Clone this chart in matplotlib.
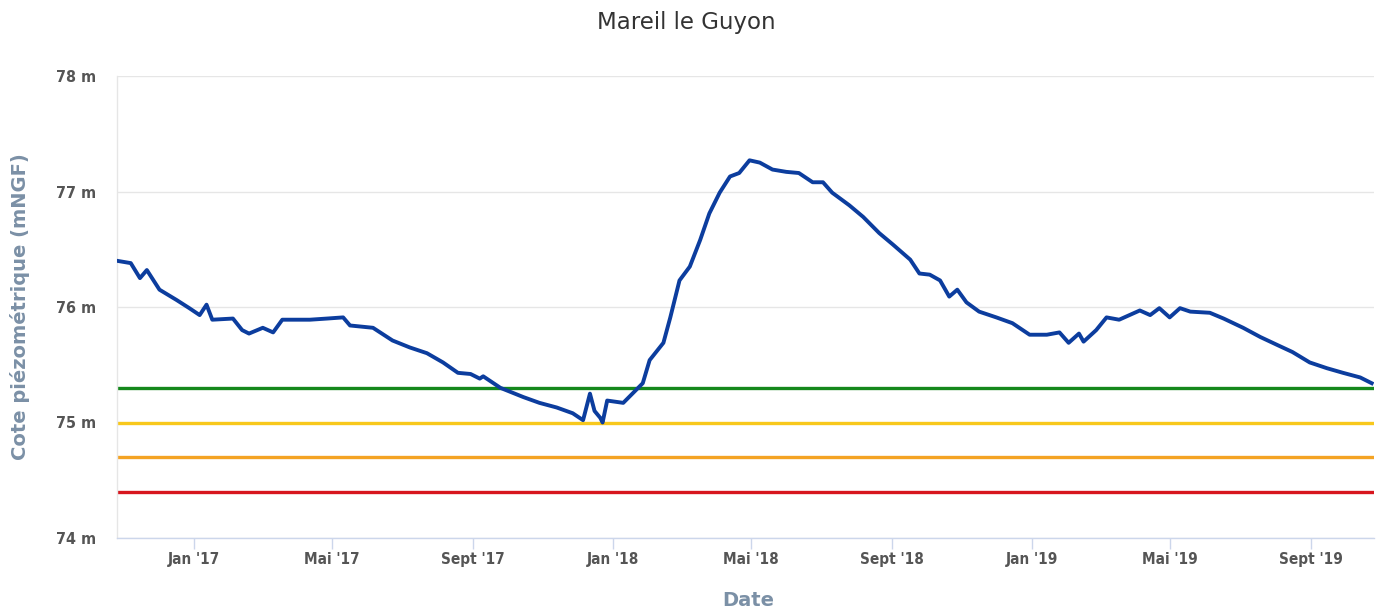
import numpy as np
import matplotlib
matplotlib.use("Agg")
import matplotlib.pyplot as plt
from matplotlib import font_manager

# ---------------- data ----------------
dates = [
    "2016-10-26", "2016-11-07", "2016-11-15", "2016-11-21", "2016-12-02", "2016-12-17",
    "2016-12-28", "2017-01-06", "2017-01-12", "2017-01-17", "2017-02-04", "2017-02-12",
    "2017-02-18", "2017-03-02", "2017-03-11", "2017-03-19", "2017-04-12", "2017-04-27",
    "2017-05-11", "2017-05-17", "2017-06-06", "2017-06-23", "2017-07-08", "2017-07-23",
    "2017-08-06", "2017-08-19", "2017-08-30", "2017-09-07", "2017-09-10", "2017-09-25",
    "2017-10-15", "2017-10-29", "2017-11-13", "2017-11-27", "2017-12-06", "2017-12-12",
    "2017-12-16", "2017-12-21", "2017-12-23", "2017-12-27", "2018-01-10", "2018-01-18",
    "2018-01-27", "2018-02-02", "2018-02-14", "2018-02-20", "2018-02-28", "2018-03-09",
    "2018-03-18", "2018-03-26", "2018-04-04", "2018-04-13", "2018-04-21", "2018-04-30",
    "2018-05-09", "2018-05-20", "2018-06-01", "2018-06-12", "2018-06-24", "2018-07-03",
    "2018-07-11", "2018-07-26", "2018-08-07", "2018-08-21", "2018-09-02", "2018-09-17",
    "2018-09-25", "2018-10-04", "2018-10-13", "2018-10-21", "2018-10-28", "2018-11-05",
    "2018-11-16", "2018-12-01", "2018-12-15", "2018-12-30", "2019-01-14", "2019-01-25",
    "2019-02-02", "2019-02-11", "2019-02-15", "2019-02-26", "2019-03-07", "2019-03-18",
    "2019-04-05", "2019-04-14", "2019-04-22", "2019-05-01", "2019-05-10", "2019-05-19",
    "2019-06-05", "2019-06-17", "2019-07-04", "2019-07-19", "2019-08-03", "2019-08-16",
    "2019-08-31", "2019-09-15", "2019-09-29", "2019-10-14", "2019-10-24",
]
levels = [
    76.40, 76.38, 76.25, 76.32, 76.15, 76.06,
    75.99, 75.93, 76.02, 75.89, 75.90, 75.80,
    75.77, 75.82, 75.78, 75.89, 75.89, 75.90,
    75.91, 75.84, 75.82, 75.71, 75.65, 75.60,
    75.52, 75.43, 75.42, 75.38, 75.40, 75.30,
    75.22, 75.17, 75.13, 75.08, 75.02, 75.25,
    75.10, 75.04, 75.00, 75.19, 75.17, 75.25,
    75.34, 75.54, 75.69, 75.91, 76.23, 76.35,
    76.58, 76.81, 76.99, 77.13, 77.16, 77.27,
    77.25, 77.19, 77.17, 77.16, 77.08, 77.08,
    76.99, 76.88, 76.78, 76.64, 76.54, 76.41,
    76.29, 76.28, 76.23, 76.09, 76.15, 76.04,
    75.96, 75.91, 75.86, 75.76, 75.76, 75.78,
    75.69, 75.77, 75.70, 75.80, 75.91, 75.89,
    75.97, 75.93, 75.99, 75.91, 75.99, 75.96,
    75.95, 75.90, 75.82, 75.74, 75.67, 75.61,
    75.52, 75.47, 75.43, 75.39, 75.34,
]
threshold_values = [75.30, 75.00, 74.70, 74.40]
threshold_colors = ["#14881c", "#f8c81c", "#f4a324", "#d7161e"]
y_ticks = [74, 75, 76, 77, 78]
y_tick_labels = ["74 m", "75 m", "76 m", "77 m", "78 m"]
x_ticks = ["2017-01-01", "2017-05-01", "2017-09-01", "2018-01-01", "2018-05-01",
           "2018-09-01", "2019-01-01", "2019-05-01", "2019-09-01"]
x_tick_labels = ["Jan '17", "Mai '17", "Sept '17", "Jan '18", "Mai '18",
                 "Sept '18", "Jan '19", "Mai '19", "Sept '19"]
title = "Mareil le Guyon"
y_label = "Cote piézométrique (mNGF)"
x_label = "Date"

# ---------------- fonts ----------------
names = {f.name for f in font_manager.fontManager.ttflist}
if "Liberation Sans Narrow" in names:
    tick_font = dict(family="Liberation Sans Narrow", weight="bold")
else:
    tick_font = dict(family="DejaVu Sans", weight="bold", stretch="condensed")

# ---------------- figure ----------------
fig = plt.figure(figsize=(13.87, 6.16), dpi=100)
ax = fig.add_axes([117 / 1387, 1 - 538 / 616, (1374 - 117) / 1387, (538 - 76) / 616])

x = np.array(dates, dtype="datetime64[D]")
xt = np.array(x_ticks, dtype="datetime64[D]")

for v, c in zip(threshold_values, threshold_colors):
    ax.axhline(v, color=c, linewidth=2.4, zorder=2)

ax.plot(x, levels, color="#0c3d9e", linewidth=2.8, zorder=3, solid_joinstyle="round")

ax.set_xlim(np.datetime64("2016-10-26"), np.datetime64("2019-10-26"))
ax.set_ylim(74, 78)

ax.set_yticks(y_ticks)
ax.set_yticklabels(y_tick_labels, fontsize=11.5, color="#555555", **tick_font)
ax.set_xticks(xt)
ax.set_xticklabels(x_tick_labels, fontsize=11, color="#555555", **tick_font)

ax.grid(axis="y", color="#e6e6e6", linewidth=1)
ax.tick_params(axis="y", length=0, pad=15)
ax.tick_params(axis="x", length=8, width=1, color="#ccd6eb", pad=2)

for s in ["top", "right"]:
    ax.spines[s].set_visible(False)
ax.spines["left"].set_color("#e6e6e6")
ax.spines["left"].set_linewidth(1)
ax.spines["bottom"].set_color("#ccd6eb")
ax.spines["bottom"].set_linewidth(1)

fig.text(686 / 1387, 1 - 22 / 616, title, ha="center", va="center",
         fontsize=16.5, color="#333333", family="DejaVu Sans")
fig.text(20 / 1387, 1 - 307 / 616, y_label, ha="center", va="center", rotation=90,
         fontsize=14, color="#7b90a6", weight="bold", family="DejaVu Sans")
fig.text(748 / 1387, 1 - 600 / 616, x_label, ha="center", va="center",
         fontsize=14, color="#7b90a6", weight="bold", family="DejaVu Sans")

fig.savefig("out.png", dpi=100, facecolor="white")
